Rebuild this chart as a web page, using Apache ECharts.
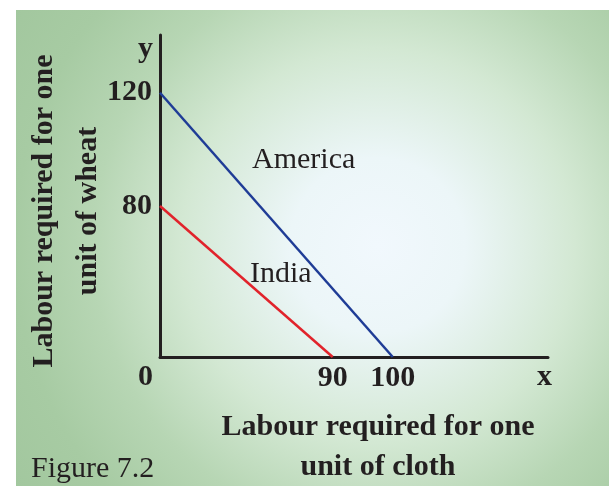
<!DOCTYPE html>
<html>
<head>
<meta charset="utf-8">
<script src="https://cdn.jsdelivr.net/npm/echarts@6/dist/echarts.min.js"></script>
<style>
html,body{margin:0;padding:0;background:#ffffff;}
#chart{width:609px;height:486px;}
</style>
</head>
<body>
<div id="chart"></div>
<script>
// ---- data ----
const seriesNames = ['America', 'India'];
const americaPoints = [[0, 120], [100, 0]];
const indiaPoints = [[0, 80], [90, 0]];
const americaYTicks = [120];
const indiaYTicks = [80];
const americaXTicks = [100];
const indiaXTicks = [90];
const yTitle = 'Labour required for one\nunit of wheat';
const xTitle = 'Labour required for one\nunit of cloth';
const caption = 'Figure 7.2';

const INK = '#231f20';
const SERIF = '"Liberation Serif", "Times New Roman", serif';

const chart = echarts.init(document.getElementById('chart'), null, {renderer: 'canvas'});

const tickLabel = {
  color: INK, fontFamily: SERIF, fontWeight: 'bold', fontSize: 30
};

function xAxisCfg(max, ticks, showLine) {
  return {
    type: 'value', min: 0, max: max, position: 'bottom',
    axisLine: {show: showLine, onZero: false, lineStyle: {color: INK, width: 3}},
    axisTick: {show: false},
    splitLine: {show: false},
    axisLabel: Object.assign({margin: 6, customValues: ticks}, tickLabel)
  };
}
function yAxisCfg(max, ticks, showLine, pad) {
  return {
    type: 'value', min: 0, max: max, position: 'left', offset: 0,
    axisLine: {show: showLine, onZero: false, lineStyle: {color: INK, width: 3}},
    axisTick: {show: false},
    splitLine: {show: false},
    axisLabel: Object.assign({margin: 8, customValues: ticks, padding: pad}, tickLabel)
  };
}

const option = {
  animation: false,
  backgroundColor: '#ffffff',
  grid: {left: 160, right: 61, top: 35, bottom: 129, containLabel: false},
  xAxis: [
    xAxisCfg(166.7, americaXTicks, true),
    xAxisCfg(202.2, indiaXTicks, false)
  ],
  yAxis: [
    yAxisCfg(146.2, americaYTicks, true, [0, 0, 7, 0]),
    yAxisCfg(170.6, indiaYTicks, false, [0, 0, 0, 0])
  ],
  graphic: [
    {
      type: 'rect', z: -10, silent: true,
      shape: {x: 16, y: 10, width: 593, height: 476},
      style: {
        fill: {
          type: 'radial', x: 0.61, y: 0.495, r: 0.92,
          colorStops: [
            {offset: 0, color: '#f1f8fd'},
            {offset: 0.2, color: '#ecf6f8'},
            {offset: 0.45, color: '#d3e8d3'},
            {offset: 0.65, color: '#b7d6b4'},
            {offset: 0.83, color: '#a7cba3'},
            {offset: 1, color: '#a2c79e'}
          ]
        }
      }
    },
    {
      type: 'text', x: 66, y: 211, rotation: Math.PI / 2,
      style: {text: yTitle, fill: INK, font: 'bold 30px ' + SERIF, align: 'center', verticalAlign: 'middle', lineHeight: 44}
    },
    {
      type: 'text', x: 378, y: 447,
      style: {text: xTitle, fill: INK, font: 'bold 30px ' + SERIF, align: 'center', verticalAlign: 'middle', lineHeight: 40}
    },
    {
      type: 'text', x: 31, y: 469,
      style: {text: caption, fill: INK, font: '30px ' + SERIF, align: 'left', verticalAlign: 'middle'}
    },
    {
      type: 'text', x: 145.5, y: 377.5,
      style: {text: '0', fill: INK, font: 'bold 30px ' + SERIF, align: 'center', verticalAlign: 'middle'}
    },
    {
      type: 'text', x: 145.5, y: 49,
      style: {text: 'y', fill: INK, font: 'bold 30px ' + SERIF, align: 'center', verticalAlign: 'middle'}
    },
    {
      type: 'text', x: 544.5, y: 377,
      style: {text: 'x', fill: INK, font: 'bold 30px ' + SERIF, align: 'center', verticalAlign: 'middle'}
    },
    {
      type: 'text', x: 252, y: 160,
      style: {text: seriesNames[0], fill: INK, font: '30px ' + SERIF, align: 'left', verticalAlign: 'middle'}
    },
    {
      type: 'text', x: 250, y: 274,
      style: {text: seriesNames[1], fill: INK, font: '30px ' + SERIF, align: 'left', verticalAlign: 'middle'}
    }
  ],
  series: [
    {
      name: seriesNames[0], type: 'line', xAxisIndex: 0, yAxisIndex: 0,
      data: americaPoints, symbol: 'none', z: 3,
      lineStyle: {color: '#1f3c96', width: 2.5}
    },
    {
      name: seriesNames[1], type: 'line', xAxisIndex: 1, yAxisIndex: 1,
      data: indiaPoints, symbol: 'none', z: 3,
      lineStyle: {color: '#e1232b', width: 2.5}
    }
  ]
};
chart.setOption(option);
</script>
</body>
</html>
